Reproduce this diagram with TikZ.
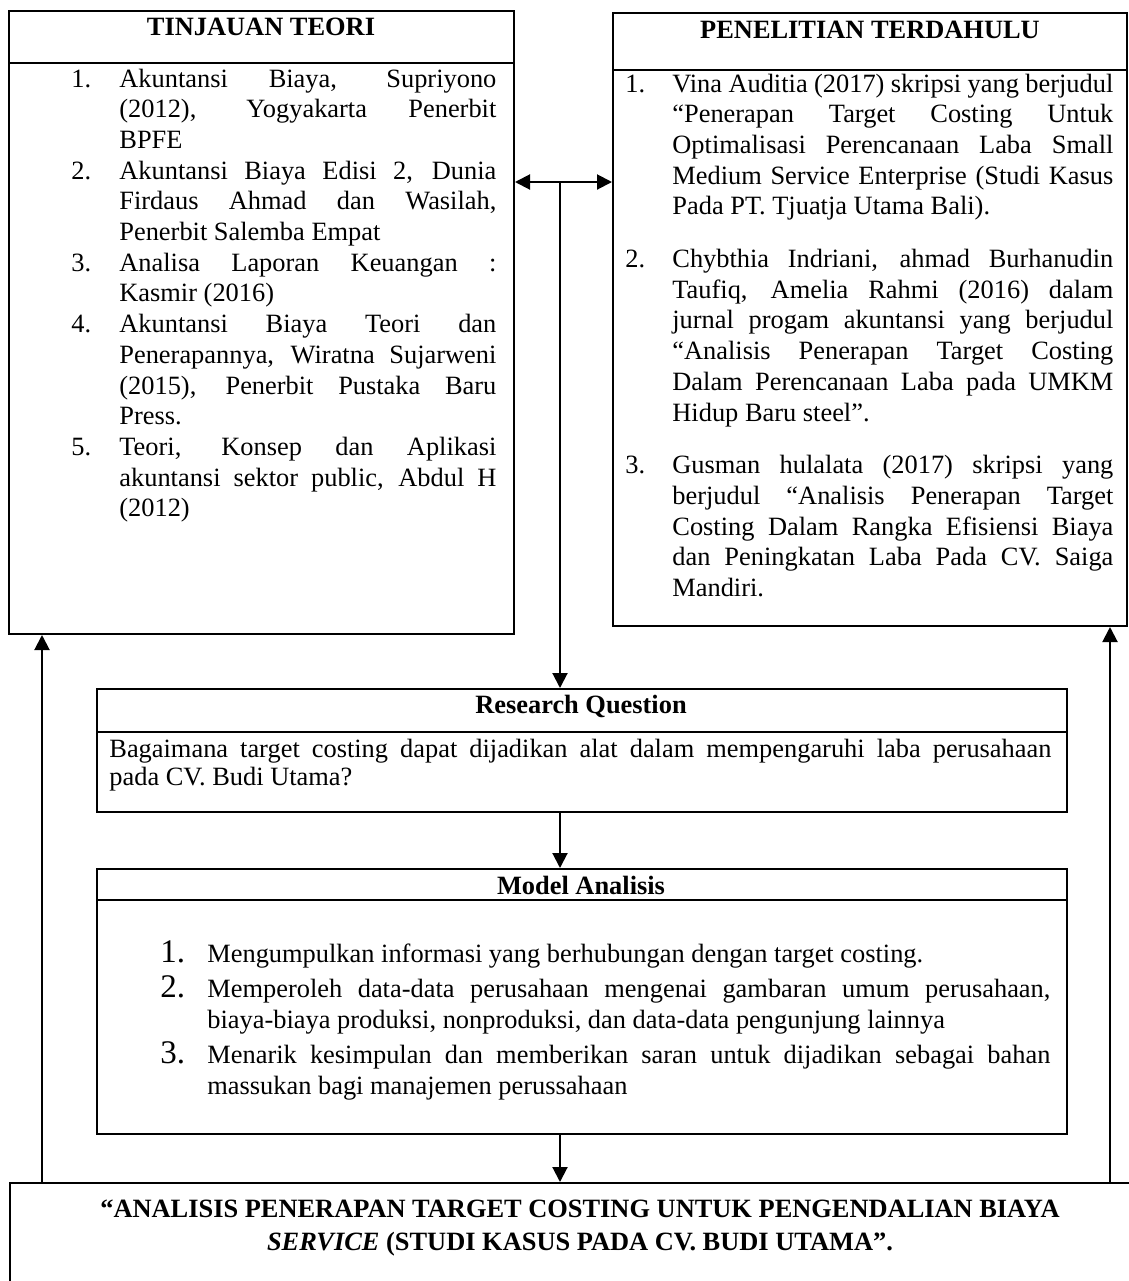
\documentclass[tikz,border=0pt]{standalone}
\usepackage{fontspec}
\setmainfont{Liberation Serif}
\usetikzlibrary{arrows.meta}

\tikzstyle{frame}=[
        draw,
        line width = 1pt,
        rectangle,
        anchor = north west,
        inner sep = 0pt
    ]
\tikzstyle{head}=[
    font = \fontsize{13.2}{15}\selectfont\bfseries,
    anchor = base,
    inner sep = 0pt
]
\tikzstyle{body}=[
    anchor = base west,
    inner sep = 0pt,
    align = justify,
    font = \fontsize{13.2}{15.35}\selectfont
]
\tikzstyle{arr}=[line width = 1pt, -{Triangle[length=7.5pt,width=7.5pt]}]
\tikzstyle{arr2}=[line width = 1pt, {Triangle[length=7.5pt,width=7.5pt]}-{Triangle[length=7.5pt,width=7.5pt]}]

\newcommand\itm[3]{\hangindent=#1\hangafter=1\noindent\makebox[#1][l]{#2}#3\par}
\newcommand\bignum[1]{\fontsize{16.5}{16.5}\selectfont #1}

\begin{document}
\begin{tikzpicture}[x=0.5pt, y=-0.5pt]
        \useasboundingbox (0,0) rectangle (1129,1281);
        \clip (0,0) rectangle (1129,1281);

        \node[frame, minimum width=252.5pt, minimum height=26pt] (teoriHead) at (8,10) {};
        \node[frame, minimum width=252.5pt, minimum height=285.5pt] (teori) at (8,62) {};
        \node[head] (teoriTitle) at (261,35) {TINJAUAN TEORI};
        \node[body, text width=212.5pt] (teoriList) at (71,87) {%
            \itm{24pt}{1.}{Akuntansi Biaya, Supriyono\linebreak (2012), Yogyakarta Penerbit\linebreak BPFE}%
            \itm{24pt}{2.}{Akuntansi Biaya Edisi 2, Dunia\linebreak Firdaus Ahmad dan Wasilah,\linebreak Penerbit Salemba Empat}%
            \itm{24pt}{3.}{Analisa Laporan Keuangan :\linebreak Kasmir (2016)}%
            \itm{24pt}{4.}{Akuntansi Biaya Teori dan\linebreak Penerapannya, Wiratna Sujarweni\linebreak (2015), Penerbit Pustaka Baru\linebreak Press.}%
            \itm{24pt}{5.}{Teori, Konsep dan Aplikasi\linebreak akuntansi sektor public, Abdul H\linebreak (2012)}};

        \node[frame, minimum width=257pt, minimum height=28.5pt] (terdahuluHead) at (612,12) {};
        \node[frame, minimum width=257pt, minimum height=278pt] (terdahulu) at (612,69) {};
        \node[head] (terdahuluTitle) at (870,38) {PENELITIAN TERDAHULU};
        \node[body, text width=244pt] (terdahuluList) at (625,92) {%
            \itm{23.5pt}{1.}{Vina Auditia (2017) skripsi yang berjudul\linebreak “Penerapan Target Costing Untuk\linebreak Optimalisasi Perencanaan Laba Small\linebreak Medium Service Enterprise (Studi Kasus\linebreak Pada PT. Tjuatja Utama Bali).}%
            \vspace{11pt}%
            \itm{23.5pt}{2.}{Chybthia Indriani, ahmad Burhanudin\linebreak Taufiq, Amelia Rahmi (2016) dalam\linebreak jurnal progam akuntansi yang berjudul\linebreak “Analisis Penerapan Target Costing\linebreak Dalam Perencanaan Laba pada UMKM\linebreak Hidup Baru steel”.}%
            \vspace{11pt}%
            \itm{23.5pt}{3.}{Gusman hulalata (2017) skripsi yang\linebreak berjudul “Analisis Penerapan Target\linebreak Costing Dalam Rangka Efisiensi Biaya\linebreak dan Peningkatan Laba Pada CV. Saiga\linebreak Mandiri.}};

        \node[frame, minimum width=485pt, minimum height=21.5pt] (rqHead) at (96,688) {};
        \node[frame, minimum width=485pt, minimum height=40pt] (rq) at (96,731) {};
        \node[head] (rqTitle) at (581,713) {Research Question};
        \node[body, text width=471pt, font=\fontsize{13.2}{14}\selectfont] (rqText) at (109,757) {%
            Bagaimana target costing dapat dijadikan alat dalam mempengaruhi laba perusahaan\linebreak pada CV. Budi Utama?};

        \node[frame, minimum width=485pt, minimum height=15.5pt] (maHead) at (96,868) {};
        \node[frame, minimum width=485pt, minimum height=117pt] (ma) at (96,899) {};
        \node[head] (maTitle) at (581,894) {Model Analisis};
        \node[body, text width=445pt, font=\fontsize{13.2}{15.5}\selectfont] (maList) at (160,962) {%
            \itm{23.5pt}{\bignum{1.}}{Mengumpulkan informasi yang berhubungan dengan target costing.}%
            \vspace{2pt}%
            \itm{23.5pt}{\bignum{2.}}{Memperoleh data-data perusahaan mengenai gambaran umum perusahaan,\linebreak biaya-biaya produksi, nonproduksi, dan data-data pengunjung lainnya}%
            \vspace{2pt}%
            \itm{23.5pt}{\bignum{3.}}{Menarik kesimpulan dan memberikan saran untuk dijadikan sebagai bahan\linebreak massukan bagi manajemen perussahaan}};

        \node[frame, minimum width=580pt, minimum height=60pt] (judul) at (9,1182) {};
        \node[head, align=center, font=\fontsize{13.2}{16.5}\selectfont\bfseries] (judulText) at (580,1250) {%
            “ANALISIS PENERAPAN TARGET COSTING UNTUK PENGENDALIAN BIAYA\\
            \textit{SERVICE} (STUDI KASUS PADA CV. BUDI UTAMA”.};

        \coordinate (hub) at (560,182);
        \coordinate (kiri) at (42,0);
        \coordinate (kanan) at (1110,0);

        \draw[arr2] (hub -| teori.east) -- (hub -| terdahulu.west);
        \draw[arr] (hub) -- (hub |- rqHead.north);
        \draw[arr] (hub |- rq.south) -- (hub |- maHead.north);
        \draw[arr] (hub |- ma.south) -- (hub |- judul.north);
        \draw[arr] (kiri |- judul.north) -- (kiri |- teori.south);
        \draw[arr] (kanan |- judul.north) -- (kanan |- terdahulu.south);

    \end{tikzpicture}
\end{document}
